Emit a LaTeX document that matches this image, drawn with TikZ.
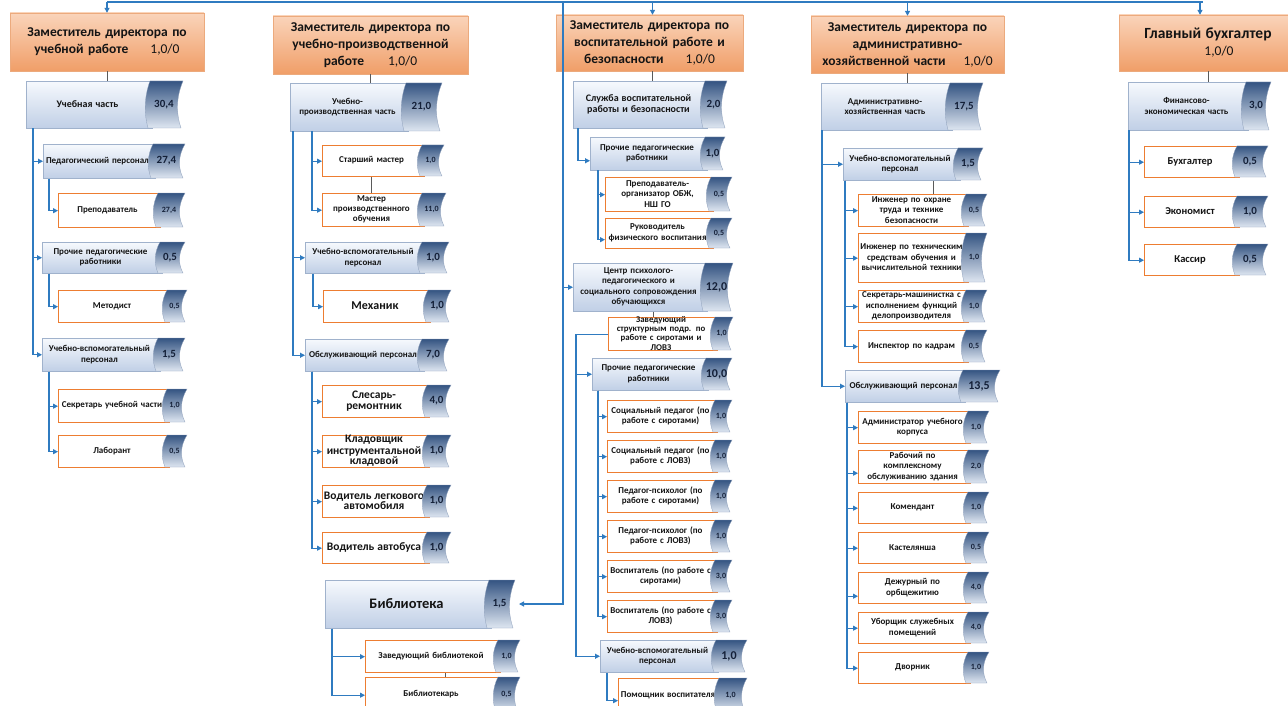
\documentclass[tikz,border=0pt]{standalone}
\usepackage{fontspec}
\setmainfont{Carlito}
\usetikzlibrary{arrows.meta,calc}
\definecolor{bl}{RGB}{47,123,192}
\definecolor{gl}{RGB}{90,90,90}
\definecolor{org}{RGB}{237,125,49}
\definecolor{hdrtop}{RGB}{250,212,186}
\definecolor{hdrbot}{RGB}{240,158,104}
\definecolor{hdredge}{RGB}{236,170,125}
\definecolor{subtop}{RGB}{246,249,253}
\definecolor{subbot}{RGB}{192,207,230}
\definecolor{subedge}{RGB}{160,178,204}
\definecolor{tabtop}{RGB}{52,84,130}
\definecolor{tabbot}{RGB}{222,230,241}
\definecolor{tabedge}{RGB}{140,158,186}
\definecolor{txtc}{RGB}{20,20,20}
\definecolor{numc}{RGB}{20,32,56}
\newcommand\fz[2]{\fontsize{#1}{#2}\selectfont}
\newcommand\sn{\fz{8}{9}}
\tikzset{
 hdr/.style={draw=hdredge, line width=0.4pt, top color=hdrtop, bottom color=hdrbot, inner sep=0pt, align=center, text=txtc, font=\bfseries\fz{13.5}{17}},
 subbox/.style={draw=subedge, line width=0.5pt, top color=subtop, bottom color=subbot},
 leafbox/.style={draw=org, line width=1.4pt, fill=white},
 boxtext/.style={align=center, inner sep=0pt, text=txtc, font=\bfseries\fz{9}{10.5}},
 numtext/.style={inner sep=0pt, text=numc, font=\bfseries\fz{11}{13}},
 tabshape/.style={top color=tabtop, bottom color=tabbot, draw=tabedge, line width=0.3pt},
 conn/.style={draw=bl, line width=1.1pt, -{Triangle[length=5pt,width=5pt]}},
 gconn/.style={draw=gl, line width=1pt},
}
\newcommand\unitbox[9]{%
 \pgfmathsetmacro\myBW{#6+5-#2}%
 \pgfmathsetmacro\myBH{#5-#3}%
 \pgfmathsetmacro\myTW{#6-#2+24}%
 \node[#7, anchor=north west, minimum width=\myBW pt, minimum height=\myBH pt, inner sep=0pt] (#1) at (#2,#3) {};
 \node[boxtext, text width=\myTW pt] (#1-t) at ({(#2+#6)/2+1},{(#3+#5)/2}) {#8};
 \shade[tabshape] ({#6+3},{#3}) .. controls ({#6-3},{#3+0.35*\myBH}) and ({#6-3},{#3+0.7*\myBH}) .. ({#6+1},{#5}) -- ({#4-2},{#5}) .. controls ({#4-7},{#3+0.7*\myBH}) and ({#4-7},{#3+0.35*\myBH}) .. ({#4},{#3}) -- cycle;
 \node[numtext] (#1-n) at ({(#6+#4)/2-1},{(#3+#5)/2}) {#9};
 \coordinate (#1-e) at ({#4},{(#3+#5)/2});
}
\newcommand\hdrbox[6]{%
 \pgfmathsetmacro\myBW{#4-#2}%
 \pgfmathsetmacro\myBH{#5-#3}%
 \pgfmathsetmacro\myTW{#4-#2-4}%
 \node[hdr, minimum width=\myBW pt, minimum height=\myBH pt, text width=\myTW pt] (#1) at ({(#2+#4)/2},{(#3+#5)/2}) {#6};
}
\begin{document}
\begin{tikzpicture}[x=1pt,y=-1pt]
\useasboundingbox (0,0) rectangle (1288,706);
\clip (0,0) rectangle (1288,706);
\fill[white] (0,0) rectangle (1288,706);

% ---------- column 1
\hdrbox{h1}{10}{13}{204}{71}{Заместитель директора по\\учебной работе\hspace{22pt}{\mdseries 1,0/0}}
\unitbox{u1}{26}{81}{183}{128}{147}{subbox}{\fz{10}{12}Учебная часть}{30,4}
\unitbox{pp1}{43}{144}{185}{178}{150}{subbox}{Педагогический персонал}{27,4}
\unitbox{l1a}{58}{193}{185}{227}{155}{leafbox}{Преподаватель}{\sn 27,4}
\unitbox{pr1}{42}{242}{185}{273}{157}{subbox}{Прочие педагогические\\работники}{0,5}
\unitbox{l1b}{58}{290}{187}{322}{164}{leafbox}{Методист}{\sn 0,5}
\unitbox{uv1}{42}{338}{185}{371}{155}{subbox}{Учебно-вспомогательный\\персонал}{1,5}
\unitbox{l1c}{58}{389}{187}{422}{164}{leafbox}{Секретарь учебной части}{\sn 1,0}
\unitbox{l1d}{58}{435}{187}{467}{164}{leafbox}{Лаборант}{\sn 0,5}

% ---------- column 2
\hdrbox{h2}{273}{16}{468}{74}{Заместитель директора по\\учебно-производственной\\работе\hspace{24pt}{\mdseries 1,0/0}}
\unitbox{u2}{290}{83}{442}{131}{403}{subbox}{Учебно-\\производственная часть}{21,0}
\unitbox{l2a}{322}{145}{444}{176}{419}{leafbox}{Старший мастер}{\sn 1,0}
\unitbox{l2b}{322}{193}{446}{226}{419}{leafbox}{\fz{9}{10}Мастер\\производственного\\обучения}{\sn 11,0}
\unitbox{uv2}{305}{242}{449}{273}{419}{subbox}{Учебно-вспомогательный\\персонал}{1,0}
\unitbox{l2c}{323}{290}{451}{322}{425}{leafbox}{\fz{12}{14}Механик}{1,0}
\unitbox{ob2}{305}{339}{449}{371}{419}{subbox}{Обслуживающий персонал}{7,0}
\unitbox{l2d}{322}{385}{451}{417}{424}{leafbox}{\fz{11.5}{13}Слесарь-\\ремонтник}{4,0}
\unitbox{l2e}{322}{435}{451}{467}{424}{leafbox}{\fz{11.5}{11.5}Кладовщик\\инструментальной\\кладовой}{1,0}
\unitbox{l2f}{322}{485}{451}{517}{424}{leafbox}{\fz{11.5}{13}Водитель легкового\\автомобиля}{1,0}
\unitbox{l2g}{322}{532}{451}{563}{424}{leafbox}{\fz{11.5}{13}Водитель автобуса}{1,0}

% ---------- library
\unitbox{lib}{325}{580}{515}{628}{486}{subbox}{\fz{14.5}{16}Библиотека}{1,5}
\unitbox{l6a}{365}{640}{520}{672}{495}{leafbox}{Заведующий библиотекой}{\sn 1,0}
\unitbox{l6b}{365}{677}{520}{712}{495}{leafbox}{Библиотекарь}{\sn 0,5}

% ---------- column 3
\hdrbox{h3}{556}{15}{743}{71}{Заместитель директора по\\воспитательной работе и\\безопасности\hspace{22pt}{\mdseries 1,0/0}}
\unitbox{s3}{573}{81}{727}{128}{702}{subbox}{\fz{10}{12.5}Служба воспитательной\\работы и безопасности}{2,0}
\unitbox{pr3}{590}{137}{725}{170}{702}{subbox}{Прочие педагогические\\работники}{1,0}
\unitbox{l3a}{605}{177}{732}{211}{708}{leafbox}{Преподаватель-\\организатор ОБЖ,\\НШ ГО}{\sn 0,5}
\unitbox{l3b}{605}{218}{732}{248}{708}{leafbox}{Руководитель\\физического воспитания}{\sn 0,5}
\unitbox{c3}{573}{263}{733}{311}{702}{subbox}{Центр психолого-\\педагогического и\\социального сопровождения\\обучающихся}{\fz{12}{14}12,0}
\unitbox{z3}{608}{317}{733}{350}{712}{leafbox}{\fz{8.8}{8.8}Заведующий\\структурным подр. по\\работе с сиротами и\\ЛОВЗ}{\sn 1,0}
\unitbox{p3}{592}{358}{732}{390}{703}{subbox}{Прочие педагогические\\работники}{\fz{12}{14}10,0}
\unitbox{l3c}{607}{400}{732}{432}{712}{leafbox}{Социальный педагог (по\\работе с сиротами)}{\sn 1,0}
\unitbox{l3d}{607}{440}{732}{472}{712}{leafbox}{Социальный педагог (по\\работе с ЛОВЗ)}{\sn 1,0}
\unitbox{l3e}{607}{480}{732}{512}{712}{leafbox}{Педагог-психолог (по\\работе с сиротами)}{\sn 1,0}
\unitbox{l3f}{607}{520}{732}{552}{712}{leafbox}{Педагог-психолог (по\\работе с ЛОВЗ)}{\sn 1,0}
\unitbox{l3g}{607}{560}{732}{592}{712}{leafbox}{Воспитатель (по работе с\\сиротами)}{\sn 3,0}
\unitbox{l3h}{607}{600}{732}{632}{712}{leafbox}{Воспитатель (по работе с\\ЛОВЗ)}{\sn 3,0}
\unitbox{uv3}{600}{640}{747}{672}{713}{subbox}{Учебно-вспомогательный\\персонал}{\fz{12}{14}1,0}
\unitbox{l3i}{618}{678}{747}{712}{716}{leafbox}{Помощник воспитателя}{\sn 1,0}

% ---------- column 4
\hdrbox{h4}{811}{16}{1004}{73}{Заместитель директора по\\административно-\\хозяйственной части\hspace{18pt}{\mdseries 1,0/0}}
\unitbox{a4}{821}{83}{983}{130}{947}{subbox}{Административно-\\хозяйственная часть}{17,5}
\unitbox{uv4}{843}{148}{983}{180}{955}{subbox}{Учебно-вспомогательный\\персонал}{1,5}
\unitbox{l4a}{858}{194}{987}{226}{963}{leafbox}{Инженер по охране\\труда и технике\\безопасности}{\sn 0,5}
\unitbox{l4b}{858}{233}{987}{282}{963}{leafbox}{Инженер по техническим\\средствам обучения и\\вычислительной техники}{\sn 1,0}
\unitbox{l4c}{858}{290}{987}{322}{963}{leafbox}{Секретарь-машинистка с\\исполнением функций\\делопроизводителя}{\sn 1,0}
\unitbox{l4d}{858}{330}{987}{362}{963}{leafbox}{Инспектор по кадрам}{\sn 0,5}
\unitbox{ob4}{845}{370}{1000}{402}{960}{subbox}{Обслуживающий персонал}{\fz{12}{14}13,5}
\unitbox{l4e}{858}{411}{989}{443}{965}{leafbox}{Администратор учебного\\корпуса}{\sn 1,0}
\unitbox{l4f}{858}{450}{989}{483}{965}{leafbox}{Рабочий по\\комплексному\\обслуживанию здания}{\sn 2,0}
\unitbox{l4g}{858}{492}{989}{523}{965}{leafbox}{Комендант}{\sn 1,0}
\unitbox{l4h}{858}{532}{989}{563}{965}{leafbox}{Кастелянша}{\sn 0,5}
\unitbox{l4i}{858}{572}{989}{603}{965}{leafbox}{Дежурный по\\орбщежитию}{\sn 4,0}
\unitbox{l4j}{858}{612}{989}{643}{965}{leafbox}{Уборщик служебных\\помещений}{\sn 4,0}
\unitbox{l4k}{858}{652}{989}{683}{965}{leafbox}{Дворник}{\sn 1,0}

% ---------- column 5
\hdrbox{h5}{1119}{15}{1297}{71}{{\fz{15.5}{19}Главный бухгалтер}\\\hspace{22pt}{\mdseries 1,0/0}}
\unitbox{f5}{1128}{82}{1271}{130}{1243}{subbox}{Финансово-\\экономическая часть}{3,0}
\unitbox{l5a}{1144}{146}{1268}{177}{1234}{leafbox}{\fz{10.5}{12}Бухгалтер}{0,5}
\unitbox{l5b}{1144}{196}{1268}{227}{1234}{leafbox}{\fz{10.5}{12}Экономист}{1,0}
\unitbox{l5c}{1144}{244}{1268}{275}{1234}{leafbox}{\fz{10.5}{12}Кассир}{0,5}

% ---------- top connectors
\coordinate (t1) at (107,2);
\coordinate (t5) at (1203,2);
\coordinate (v3) at (563,2);
\draw[draw=bl, line width=1.1pt] (t1) -- (t5);
\draw[conn] (t1) -- (h1.north);
\coordinate (a3) at ([xshift=3pt]h3.north);
\draw[conn] (a3 |- t1) -- (a3);
\draw[conn] (h4.north |- t1) -- (h4.north);
\coordinate (a5) at ([xshift=-8pt]h5.north);
\draw[conn] (a5 |- t1) -- (a5);
\draw[conn] (v3) |- (c3.west);
\draw[conn] (v3) |- ([xshift=4pt]lib-e);

% ---------- gray connectors
\draw[gconn] (h1.south) -- (h1.south |- u1.north);
\draw[gconn] (h2.south) -- (h2.south |- u2.north);
\coordinate (g3) at ([xshift=3pt]h3.south);
\draw[gconn] (g3) -- (g3 |- s3.north);
\draw[gconn] (h4.south) -- (h4.south |- a4.north);
\draw[gconn] (h5.south) -- (h5.south |- f5.north);
\coordinate (g2) at ([xshift=49pt]l2a.south west);
\draw[gconn] (g2) -- (g2 |- l2b.north);
\coordinate (g6) at ([xshift=80pt]l6a.south west);
\draw[gconn] (g6) -- (g6 |- l6b.north);
\coordinate (gc) at ([xshift=80pt]c3.south west);
\draw[gconn] (gc) -- (gc |- z3.north);
\coordinate (g4) at ([xshift=90pt]uv4.south west);
\draw[gconn] (g4) -- (g4 |- l4a.north);

% ---------- blue connectors
\foreach \t in {pp1,pr1,uv1} \draw[conn] ([xshift=7pt]u1.south west) |- (\t.west);
\draw[conn] ([xshift=6pt]pp1.south west) |- (l1a.west);
\draw[conn] ([xshift=7pt]pr1.south west) |- (l1b.west);
\foreach \t in {l1c,l1d} \draw[conn] ([xshift=7pt]uv1.south west) |- (\t.west);

\foreach \t in {uv2,ob2} \draw[conn] ([xshift=3pt]u2.south west) |- (\t.west);
\foreach \t in {l2a,l2b} \draw[conn] ([xshift=22pt]u2.south west) |- (\t.west);
\draw[conn] ([xshift=8pt]uv2.south west) |- (l2c.west);
\foreach \t in {l2d,l2e,l2f,l2g} \draw[conn] ([xshift=7pt]ob2.south west) |- (\t.west);

\foreach \t in {l6a,l6b} \draw[conn] ([xshift=7pt]lib.south west) |- (\t.west);

\draw[conn] ([xshift=5pt]s3.south west) |- ([yshift=-7pt]pr3.west);
\draw[conn] ([xshift=8pt]pr3.south west) |- (l3a.west);
\draw[conn] ([xshift=8pt]pr3.south west) |- ([yshift=-6pt]l3b.west);
\draw[conn] (z3.west) -- ++(-32pt,0pt) |- (p3.west);
\draw[conn] (z3.west) -- ++(-32pt,0pt) |- (uv3.west);
\foreach \t in {l3c,l3d,l3e,l3f,l3g,l3h} \draw[conn] ([xshift=6pt]p3.south west) |- (\t.west);
\draw[conn] ([xshift=7pt]uv3.south west) |- ([yshift=-5pt]l3i.west);

\foreach \t in {uv4,ob4} \draw[conn] ([xshift=1pt]a4.south west) |- (\t.west);
\foreach \t in {l4a,l4b,l4c,l4d} \draw[conn] ([xshift=2pt]uv4.south west) |- (\t.west);
\foreach \t in {l4e,l4g,l4h,l4j,l4k} \draw[conn] ([xshift=2pt]ob4.south west) |- (\t.west);
\draw[conn] ([xshift=2pt]ob4.south west) |- ([yshift=-6pt]l4f.west);
\draw[conn] ([xshift=2pt]ob4.south west) |- ([yshift=-8pt]l4i.west);

\foreach \t in {l5a,l5b,l5c} \draw[conn] ([xshift=1pt]f5.south west) |- (\t.west);
\end{tikzpicture}
\end{document}
